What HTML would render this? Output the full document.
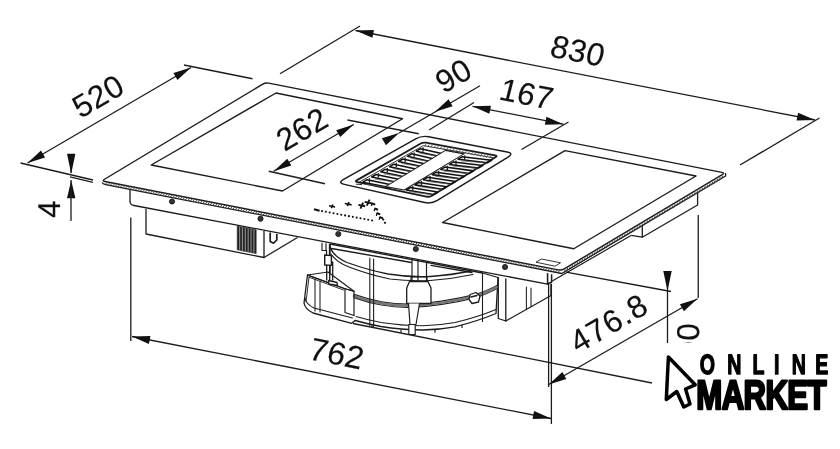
<!DOCTYPE html>
<html><head><meta charset="utf-8"><title>Dimensions</title>
<style>
html,body{margin:0;padding:0;background:#fff;}
body{width:840px;height:449px;overflow:hidden;}
svg{display:block;filter:grayscale(1) blur(0.35px);}
svg text{font-family:"Liberation Sans",sans-serif;fill:#111;text-rendering:geometricPrecision;}
</style></head><body>
<svg width="840" height="449" viewBox="0 0 840 449" stroke="#1c1c1c" fill="none" stroke-linecap="round" stroke-linejoin="round">
<rect width="840" height="449" fill="#fff" stroke="none"/>
<g id="blower">
<path d="M330,244 L330,283 L307.5,275 L304,303 Q305,309 313,313 L351.7,323.3 L355,320.5 Q368,324 381,326.5 Q401,329.8 423,330 Q440,329.6 455,326.8 Q478,321 496,313.5 L498,277.5 L482.5,273 Z" stroke-width="1.3" fill="#fff"/>
<path d="M329.5,245 Q332,256 347,262.5 Q368,270 388,274 Q410,277.5 430,276.5 Q452,275 471,271" stroke-width="1.3" fill="none"/>
<path d="M331,254 Q336,262 349,267 Q370,275 390,279 Q410,281.5 430,280.5 Q452,279 473,274.5" stroke-width="1.17" fill="none"/>
<path d="M354,294.4 Q368,299.4 381.4,301.8 Q395,304.0 407.6,304.2 Q425,304.0 441.7,301.2 Q460,298.4 475.7,294.4 Q488,290.4 497,285.4" stroke-width="1.17" fill="none"/>
<path d="M354,297.6 Q368,302.6 381.4,305.0 Q395,307.2 407.6,307.4 Q425,307.2 441.7,304.4 Q460,301.6 475.7,297.6 Q488,293.6 497,288.6" stroke-width="1.17" fill="none"/>
<path d="M354,296.0 Q368,301.0 381.4,303.4 Q395,305.6 407.6,305.8 Q425,305.6 441.7,302.8 Q460,300.0 475.7,296.0 Q488,292.0 497,287.0" stroke-width="2.6" fill="none" stroke="#777"/>
<path d="M356,316.5 Q368,320 381,322.5 Q401,325.6 423,325.8 Q440,325.4 455,322.6 Q478,317 496,309.5" stroke-width="1.04" fill="none"/>
<path d="M331.5,248.5 L411.4,262.5 M431,265.3 L472,272.5" stroke-width="1.3" fill="none"/>
<line x1="369.8" y1="258" x2="369.8" y2="325.5" stroke-width="1.1"/>
<line x1="373.6" y1="259" x2="373.6" y2="326.5" stroke-width="1.1"/>
<line x1="482.5" y1="273" x2="482.5" y2="321.5" stroke-width="1.1"/>
<path d="M307.5,275 L328,272 L354,291.3 L345,288.7 Z" stroke-width="1.17" fill="#fff"/>
<path d="M307.5,275 L345,288.7 L354,291.3 L354,315.5" stroke-width="1.17" fill="none"/>
<path d="M345,288.7 L345,312.5 L354,315.5" stroke-width="1.17" fill="none"/>
<path d="M315,279 L315,311 M320,281 L320,312" stroke-width="1.04" fill="none"/>
<path d="M309,277.2 L343.5,290 M309,277.2 L306,302" stroke-width="0.91" fill="none"/>
<path d="M305,298 Q306,304 314,308 L352.5,318" stroke-width="1.04" fill="none"/>
<path d="M322,243 L322,250.5 L326,250.5 L326,243.5" stroke-width="1.17" fill="#fff"/>
<path d="M326.5,250.5 L326.5,255 M329.5,245 L329.5,255" stroke-width="1.3" fill="none"/>
<path d="M324.7,255 L331.4,255.6 L331.4,265.4 L324.7,265 Z" stroke-width="1.43" fill="#fff"/>
<path d="M326.7,265.2 L326.7,280 M329.7,265.4 L329.7,280 M332.7,262 L332.7,280" stroke-width="1.3" fill="none"/>
<path d="M328.7,280.5 L337,282.5 L337.4,285.5 L328.7,284 Z" stroke-width="1.3" fill="#fff"/>
<path d="M412,260 L412,281 M418,261 L418,281 M426.5,263 L426.5,281" stroke-width="1.17" fill="none"/>
<path d="M406.7,288 L409.5,281.5 L428,281.5 L431,288 L431,303.5 L406.7,303.5 Z" stroke-width="1.3" fill="#fff"/>
<path d="M411,281.5 L411,277 L427,277 L427,281.5" stroke-width="1.17" fill="none"/>
<path d="M408.5,303.5 L410,324.5 L416,324.5 L419.5,303.5" stroke-width="1.17" fill="#fff"/>
<path d="M408.8,324.5 L408.8,334.5 L415.2,334.5 L415.2,324.5 Z" stroke-width="1.17" fill="#fff"/>
<path d="M470,294.5 L476,292.5 L480,296 L478.5,302 L472,303.5 L469,299.5 Z" stroke-width="1.3" fill="#fff"/>
<path d="M471,297 L477,295.5" stroke-width="1.3" fill="none"/>
<path d="M498.3,277.5 L498.3,318.5 L505.8,321 L551,295.5 L551,284" stroke-width="1.3" fill="#fff"/>
<path d="M505.8,279 L505.8,321" stroke-width="1.3" fill="none"/>
<path d="M526.4,287 L526.4,309 M531,288 L531,306.5" stroke-width="1.04" fill="none"/>
<line x1="372" y1="325.5" x2="372" y2="327.5" stroke-width="1.2"/>
<line x1="401" y1="330" x2="401" y2="332" stroke-width="1.2"/>
<line x1="435" y1="330.2" x2="435" y2="332.2" stroke-width="1.2"/>
<line x1="462" y1="325.5" x2="462" y2="327.5" stroke-width="1.2"/>
</g>
<g id="main" stroke-linecap="butt">
<style>#main text{stroke:#111;stroke-width:0.15px;}</style>
<path d="M146.00,209.00 L146.00,234.00 L264.00,257.50 L264.00,231.00" stroke-width="1.3" fill="#fff" />
<path d="M264.00,257.50 L297.50,237.50" stroke-width="1.3" fill="none" />
<path d="M237.20,226.00 L256.20,229.80 L256.20,253.60 L237.20,249.80 Z" stroke-width="0.5" fill="#8a8a8a" />
<line x1="238.20" y1="226.40" x2="238.20" y2="250.00" stroke-width="1.7" stroke="#222" />
<line x1="241.05" y1="226.97" x2="241.05" y2="250.57" stroke-width="1.7" stroke="#222" />
<line x1="243.90" y1="227.54" x2="243.90" y2="251.14" stroke-width="1.7" stroke="#222" />
<line x1="246.75" y1="228.11" x2="246.75" y2="251.71" stroke-width="1.7" stroke="#222" />
<line x1="249.60" y1="228.68" x2="249.60" y2="252.28" stroke-width="1.7" stroke="#222" />
<line x1="252.45" y1="229.25" x2="252.45" y2="252.85" stroke-width="1.7" stroke="#222" />
<line x1="255.30" y1="229.82" x2="255.30" y2="253.42" stroke-width="1.7" stroke="#222" />
<path d="M270.2,232.5 L270.2,241.5 L273.5,243.2 L276.8,240 L276.8,234" stroke-width="1.7" fill="none" />
<path d="M130,189 L130,201 Q130,205 134,205.5 L547.6,284.2 L547.6,273" stroke-width="1.3" fill="#fff" />
<path d="M697.60,192.50 L697.60,205.00 L642.30,237.20 L642.30,225.80" stroke-width="1.3" fill="none" />
<path d="M642.30,237.20 L631.20,235.30" stroke-width="1.2" fill="none" />
<path d="M104.94,181.51 Q101.80,180.90 104.54,179.25 L262.76,84.15 Q265.50,82.50 268.64,83.12 L721.86,172.38 Q725.00,173.00 722.25,174.64 L564.25,268.86 Q561.50,270.50 558.36,269.89 Z" stroke-width="1.45" fill="#fff" />
<path d="M102.2,182.6 Q102.8,184.2 105.5,184.6 L561.8,273.5 L725.6,176.0 L725.6,173" stroke-width="1.3" fill="none" />
<line x1="105.00" y1="184.59" x2="107.40" y2="182.19" stroke-width="0.9" stroke="#333" />
<line x1="107.50" y1="185.08" x2="109.90" y2="182.68" stroke-width="0.9" stroke="#333" />
<line x1="110.00" y1="185.57" x2="112.40" y2="183.17" stroke-width="0.9" stroke="#333" />
<line x1="112.50" y1="186.06" x2="114.90" y2="183.66" stroke-width="0.9" stroke="#333" />
<line x1="115.00" y1="186.54" x2="117.40" y2="184.14" stroke-width="0.9" stroke="#333" />
<line x1="117.50" y1="187.03" x2="119.90" y2="184.63" stroke-width="0.9" stroke="#333" />
<line x1="120.00" y1="187.52" x2="122.40" y2="185.12" stroke-width="0.9" stroke="#333" />
<line x1="122.50" y1="188.01" x2="124.90" y2="185.61" stroke-width="0.9" stroke="#333" />
<line x1="125.00" y1="188.49" x2="127.40" y2="186.09" stroke-width="0.9" stroke="#333" />
<line x1="127.50" y1="188.98" x2="129.90" y2="186.58" stroke-width="0.9" stroke="#333" />
<line x1="130.00" y1="189.47" x2="132.40" y2="187.07" stroke-width="0.9" stroke="#333" />
<line x1="132.50" y1="189.95" x2="134.90" y2="187.55" stroke-width="0.9" stroke="#333" />
<line x1="135.00" y1="190.44" x2="137.40" y2="188.04" stroke-width="0.9" stroke="#333" />
<line x1="137.50" y1="190.93" x2="139.90" y2="188.53" stroke-width="0.9" stroke="#333" />
<line x1="140.00" y1="191.42" x2="142.40" y2="189.02" stroke-width="0.9" stroke="#333" />
<line x1="142.50" y1="191.90" x2="144.90" y2="189.50" stroke-width="0.9" stroke="#333" />
<line x1="145.00" y1="192.39" x2="147.40" y2="189.99" stroke-width="0.9" stroke="#333" />
<line x1="147.50" y1="192.88" x2="149.90" y2="190.48" stroke-width="0.9" stroke="#333" />
<line x1="150.00" y1="193.37" x2="152.40" y2="190.97" stroke-width="0.9" stroke="#333" />
<line x1="152.50" y1="193.85" x2="154.90" y2="191.45" stroke-width="0.9" stroke="#333" />
<line x1="155.00" y1="194.34" x2="157.40" y2="191.94" stroke-width="0.9" stroke="#333" />
<line x1="157.50" y1="194.83" x2="159.90" y2="192.43" stroke-width="0.9" stroke="#333" />
<line x1="160.00" y1="195.31" x2="162.40" y2="192.91" stroke-width="0.9" stroke="#333" />
<line x1="162.50" y1="195.80" x2="164.90" y2="193.40" stroke-width="0.9" stroke="#333" />
<line x1="165.00" y1="196.29" x2="167.40" y2="193.89" stroke-width="0.9" stroke="#333" />
<line x1="167.50" y1="196.78" x2="169.90" y2="194.38" stroke-width="0.9" stroke="#333" />
<line x1="170.00" y1="197.26" x2="172.40" y2="194.86" stroke-width="0.9" stroke="#333" />
<line x1="172.50" y1="197.75" x2="174.90" y2="195.35" stroke-width="0.9" stroke="#333" />
<line x1="175.00" y1="198.24" x2="177.40" y2="195.84" stroke-width="0.9" stroke="#333" />
<line x1="177.50" y1="198.73" x2="179.90" y2="196.33" stroke-width="0.9" stroke="#333" />
<line x1="180.00" y1="199.21" x2="182.40" y2="196.81" stroke-width="0.9" stroke="#333" />
<line x1="182.50" y1="199.70" x2="184.90" y2="197.30" stroke-width="0.9" stroke="#333" />
<line x1="185.00" y1="200.19" x2="187.40" y2="197.79" stroke-width="0.9" stroke="#333" />
<line x1="187.50" y1="200.67" x2="189.90" y2="198.27" stroke-width="0.9" stroke="#333" />
<line x1="190.00" y1="201.16" x2="192.40" y2="198.76" stroke-width="0.9" stroke="#333" />
<line x1="192.50" y1="201.65" x2="194.90" y2="199.25" stroke-width="0.9" stroke="#333" />
<line x1="195.00" y1="202.14" x2="197.40" y2="199.74" stroke-width="0.9" stroke="#333" />
<line x1="197.50" y1="202.62" x2="199.90" y2="200.22" stroke-width="0.9" stroke="#333" />
<line x1="200.00" y1="203.11" x2="202.40" y2="200.71" stroke-width="0.9" stroke="#333" />
<line x1="202.50" y1="203.60" x2="204.90" y2="201.20" stroke-width="0.9" stroke="#333" />
<line x1="205.00" y1="204.08" x2="207.40" y2="201.68" stroke-width="0.9" stroke="#333" />
<line x1="207.50" y1="204.57" x2="209.90" y2="202.17" stroke-width="0.9" stroke="#333" />
<line x1="210.00" y1="205.06" x2="212.40" y2="202.66" stroke-width="0.9" stroke="#333" />
<line x1="212.50" y1="205.55" x2="214.90" y2="203.15" stroke-width="0.9" stroke="#333" />
<line x1="215.00" y1="206.03" x2="217.40" y2="203.63" stroke-width="0.9" stroke="#333" />
<line x1="217.50" y1="206.52" x2="219.90" y2="204.12" stroke-width="0.9" stroke="#333" />
<line x1="220.00" y1="207.01" x2="222.40" y2="204.61" stroke-width="0.9" stroke="#333" />
<line x1="222.50" y1="207.50" x2="224.90" y2="205.10" stroke-width="0.9" stroke="#333" />
<line x1="225.00" y1="207.98" x2="227.40" y2="205.58" stroke-width="0.9" stroke="#333" />
<line x1="227.50" y1="208.47" x2="229.90" y2="206.07" stroke-width="0.9" stroke="#333" />
<line x1="230.00" y1="208.96" x2="232.40" y2="206.56" stroke-width="0.9" stroke="#333" />
<line x1="232.50" y1="209.44" x2="234.90" y2="207.04" stroke-width="0.9" stroke="#333" />
<line x1="235.00" y1="209.93" x2="237.40" y2="207.53" stroke-width="0.9" stroke="#333" />
<line x1="237.50" y1="210.42" x2="239.90" y2="208.02" stroke-width="0.9" stroke="#333" />
<line x1="240.00" y1="210.91" x2="242.40" y2="208.51" stroke-width="0.9" stroke="#333" />
<line x1="242.50" y1="211.39" x2="244.90" y2="208.99" stroke-width="0.9" stroke="#333" />
<line x1="245.00" y1="211.88" x2="247.40" y2="209.48" stroke-width="0.9" stroke="#333" />
<line x1="247.50" y1="212.37" x2="249.90" y2="209.97" stroke-width="0.9" stroke="#333" />
<line x1="250.00" y1="212.86" x2="252.40" y2="210.46" stroke-width="0.9" stroke="#333" />
<line x1="252.50" y1="213.34" x2="254.90" y2="210.94" stroke-width="0.9" stroke="#333" />
<line x1="255.00" y1="213.83" x2="257.40" y2="211.43" stroke-width="0.9" stroke="#333" />
<line x1="257.50" y1="214.32" x2="259.90" y2="211.92" stroke-width="0.9" stroke="#333" />
<line x1="260.00" y1="214.80" x2="262.40" y2="212.40" stroke-width="0.9" stroke="#333" />
<line x1="262.50" y1="215.29" x2="264.90" y2="212.89" stroke-width="0.9" stroke="#333" />
<line x1="265.00" y1="215.78" x2="267.40" y2="213.38" stroke-width="0.9" stroke="#333" />
<line x1="267.50" y1="216.27" x2="269.90" y2="213.87" stroke-width="0.9" stroke="#333" />
<line x1="270.00" y1="216.75" x2="272.40" y2="214.35" stroke-width="0.9" stroke="#333" />
<line x1="272.50" y1="217.24" x2="274.90" y2="214.84" stroke-width="0.9" stroke="#333" />
<line x1="275.00" y1="217.73" x2="277.40" y2="215.33" stroke-width="0.9" stroke="#333" />
<line x1="277.50" y1="218.22" x2="279.90" y2="215.82" stroke-width="0.9" stroke="#333" />
<line x1="280.00" y1="218.70" x2="282.40" y2="216.30" stroke-width="0.9" stroke="#333" />
<line x1="282.50" y1="219.19" x2="284.90" y2="216.79" stroke-width="0.9" stroke="#333" />
<line x1="285.00" y1="219.68" x2="287.40" y2="217.28" stroke-width="0.9" stroke="#333" />
<line x1="287.50" y1="220.16" x2="289.90" y2="217.76" stroke-width="0.9" stroke="#333" />
<line x1="290.00" y1="220.65" x2="292.40" y2="218.25" stroke-width="0.9" stroke="#333" />
<line x1="292.50" y1="221.14" x2="294.90" y2="218.74" stroke-width="0.9" stroke="#333" />
<line x1="295.00" y1="221.63" x2="297.40" y2="219.23" stroke-width="0.9" stroke="#333" />
<line x1="297.50" y1="222.11" x2="299.90" y2="219.71" stroke-width="0.9" stroke="#333" />
<line x1="300.00" y1="222.60" x2="302.40" y2="220.20" stroke-width="0.9" stroke="#333" />
<line x1="302.50" y1="223.09" x2="304.90" y2="220.69" stroke-width="0.9" stroke="#333" />
<line x1="305.00" y1="223.57" x2="307.40" y2="221.17" stroke-width="0.9" stroke="#333" />
<line x1="307.50" y1="224.06" x2="309.90" y2="221.66" stroke-width="0.9" stroke="#333" />
<line x1="310.00" y1="224.55" x2="312.40" y2="222.15" stroke-width="0.9" stroke="#333" />
<line x1="312.50" y1="225.04" x2="314.90" y2="222.64" stroke-width="0.9" stroke="#333" />
<line x1="315.00" y1="225.52" x2="317.40" y2="223.12" stroke-width="0.9" stroke="#333" />
<line x1="317.50" y1="226.01" x2="319.90" y2="223.61" stroke-width="0.9" stroke="#333" />
<line x1="320.00" y1="226.50" x2="322.40" y2="224.10" stroke-width="0.9" stroke="#333" />
<line x1="322.50" y1="226.99" x2="324.90" y2="224.59" stroke-width="0.9" stroke="#333" />
<line x1="325.00" y1="227.47" x2="327.40" y2="225.07" stroke-width="0.9" stroke="#333" />
<line x1="327.50" y1="227.96" x2="329.90" y2="225.56" stroke-width="0.9" stroke="#333" />
<line x1="330.00" y1="228.45" x2="332.40" y2="226.05" stroke-width="0.9" stroke="#333" />
<line x1="332.50" y1="228.93" x2="334.90" y2="226.53" stroke-width="0.9" stroke="#333" />
<line x1="335.00" y1="229.42" x2="337.40" y2="227.02" stroke-width="0.9" stroke="#333" />
<line x1="337.50" y1="229.91" x2="339.90" y2="227.51" stroke-width="0.9" stroke="#333" />
<line x1="340.00" y1="230.40" x2="342.40" y2="228.00" stroke-width="0.9" stroke="#333" />
<line x1="342.50" y1="230.88" x2="344.90" y2="228.48" stroke-width="0.9" stroke="#333" />
<line x1="345.00" y1="231.37" x2="347.40" y2="228.97" stroke-width="0.9" stroke="#333" />
<line x1="347.50" y1="231.86" x2="349.90" y2="229.46" stroke-width="0.9" stroke="#333" />
<line x1="350.00" y1="232.35" x2="352.40" y2="229.95" stroke-width="0.9" stroke="#333" />
<line x1="352.50" y1="232.83" x2="354.90" y2="230.43" stroke-width="0.9" stroke="#333" />
<line x1="355.00" y1="233.32" x2="357.40" y2="230.92" stroke-width="0.9" stroke="#333" />
<line x1="357.50" y1="233.81" x2="359.90" y2="231.41" stroke-width="0.9" stroke="#333" />
<line x1="360.00" y1="234.29" x2="362.40" y2="231.89" stroke-width="0.9" stroke="#333" />
<line x1="362.50" y1="234.78" x2="364.90" y2="232.38" stroke-width="0.9" stroke="#333" />
<line x1="365.00" y1="235.27" x2="367.40" y2="232.87" stroke-width="0.9" stroke="#333" />
<line x1="367.50" y1="235.76" x2="369.90" y2="233.36" stroke-width="0.9" stroke="#333" />
<line x1="370.00" y1="236.24" x2="372.40" y2="233.84" stroke-width="0.9" stroke="#333" />
<line x1="372.50" y1="236.73" x2="374.90" y2="234.33" stroke-width="0.9" stroke="#333" />
<line x1="375.00" y1="237.22" x2="377.40" y2="234.82" stroke-width="0.9" stroke="#333" />
<line x1="377.50" y1="237.71" x2="379.90" y2="235.31" stroke-width="0.9" stroke="#333" />
<line x1="380.00" y1="238.19" x2="382.40" y2="235.79" stroke-width="0.9" stroke="#333" />
<line x1="382.50" y1="238.68" x2="384.90" y2="236.28" stroke-width="0.9" stroke="#333" />
<line x1="385.00" y1="239.17" x2="387.40" y2="236.77" stroke-width="0.9" stroke="#333" />
<line x1="387.50" y1="239.65" x2="389.90" y2="237.25" stroke-width="0.9" stroke="#333" />
<line x1="390.00" y1="240.14" x2="392.40" y2="237.74" stroke-width="0.9" stroke="#333" />
<line x1="392.50" y1="240.63" x2="394.90" y2="238.23" stroke-width="0.9" stroke="#333" />
<line x1="395.00" y1="241.12" x2="397.40" y2="238.72" stroke-width="0.9" stroke="#333" />
<line x1="397.50" y1="241.60" x2="399.90" y2="239.20" stroke-width="0.9" stroke="#333" />
<line x1="400.00" y1="242.09" x2="402.40" y2="239.69" stroke-width="0.9" stroke="#333" />
<line x1="402.50" y1="242.58" x2="404.90" y2="240.18" stroke-width="0.9" stroke="#333" />
<line x1="405.00" y1="243.06" x2="407.40" y2="240.66" stroke-width="0.9" stroke="#333" />
<line x1="407.50" y1="243.55" x2="409.90" y2="241.15" stroke-width="0.9" stroke="#333" />
<line x1="410.00" y1="244.04" x2="412.40" y2="241.64" stroke-width="0.9" stroke="#333" />
<line x1="412.50" y1="244.53" x2="414.90" y2="242.13" stroke-width="0.9" stroke="#333" />
<line x1="415.00" y1="245.01" x2="417.40" y2="242.61" stroke-width="0.9" stroke="#333" />
<line x1="417.50" y1="245.50" x2="419.90" y2="243.10" stroke-width="0.9" stroke="#333" />
<line x1="420.00" y1="245.99" x2="422.40" y2="243.59" stroke-width="0.9" stroke="#333" />
<line x1="422.50" y1="246.48" x2="424.90" y2="244.08" stroke-width="0.9" stroke="#333" />
<line x1="425.00" y1="246.96" x2="427.40" y2="244.56" stroke-width="0.9" stroke="#333" />
<line x1="427.50" y1="247.45" x2="429.90" y2="245.05" stroke-width="0.9" stroke="#333" />
<line x1="430.00" y1="247.94" x2="432.40" y2="245.54" stroke-width="0.9" stroke="#333" />
<line x1="432.50" y1="248.42" x2="434.90" y2="246.02" stroke-width="0.9" stroke="#333" />
<line x1="435.00" y1="248.91" x2="437.40" y2="246.51" stroke-width="0.9" stroke="#333" />
<line x1="437.50" y1="249.40" x2="439.90" y2="247.00" stroke-width="0.9" stroke="#333" />
<line x1="440.00" y1="249.89" x2="442.40" y2="247.49" stroke-width="0.9" stroke="#333" />
<line x1="442.50" y1="250.37" x2="444.90" y2="247.97" stroke-width="0.9" stroke="#333" />
<line x1="445.00" y1="250.86" x2="447.40" y2="248.46" stroke-width="0.9" stroke="#333" />
<line x1="447.50" y1="251.35" x2="449.90" y2="248.95" stroke-width="0.9" stroke="#333" />
<line x1="450.00" y1="251.84" x2="452.40" y2="249.44" stroke-width="0.9" stroke="#333" />
<line x1="452.50" y1="252.32" x2="454.90" y2="249.92" stroke-width="0.9" stroke="#333" />
<line x1="455.00" y1="252.81" x2="457.40" y2="250.41" stroke-width="0.9" stroke="#333" />
<line x1="457.50" y1="253.30" x2="459.90" y2="250.90" stroke-width="0.9" stroke="#333" />
<line x1="460.00" y1="253.78" x2="462.40" y2="251.38" stroke-width="0.9" stroke="#333" />
<line x1="462.50" y1="254.27" x2="464.90" y2="251.87" stroke-width="0.9" stroke="#333" />
<line x1="465.00" y1="254.76" x2="467.40" y2="252.36" stroke-width="0.9" stroke="#333" />
<line x1="467.50" y1="255.25" x2="469.90" y2="252.85" stroke-width="0.9" stroke="#333" />
<line x1="470.00" y1="255.73" x2="472.40" y2="253.33" stroke-width="0.9" stroke="#333" />
<line x1="472.50" y1="256.22" x2="474.90" y2="253.82" stroke-width="0.9" stroke="#333" />
<line x1="475.00" y1="256.71" x2="477.40" y2="254.31" stroke-width="0.9" stroke="#333" />
<line x1="477.50" y1="257.20" x2="479.90" y2="254.80" stroke-width="0.9" stroke="#333" />
<line x1="480.00" y1="257.68" x2="482.40" y2="255.28" stroke-width="0.9" stroke="#333" />
<line x1="482.50" y1="258.17" x2="484.90" y2="255.77" stroke-width="0.9" stroke="#333" />
<line x1="485.00" y1="258.66" x2="487.40" y2="256.26" stroke-width="0.9" stroke="#333" />
<line x1="487.50" y1="259.14" x2="489.90" y2="256.74" stroke-width="0.9" stroke="#333" />
<line x1="490.00" y1="259.63" x2="492.40" y2="257.23" stroke-width="0.9" stroke="#333" />
<line x1="492.50" y1="260.12" x2="494.90" y2="257.72" stroke-width="0.9" stroke="#333" />
<line x1="495.00" y1="260.61" x2="497.40" y2="258.21" stroke-width="0.9" stroke="#333" />
<line x1="497.50" y1="261.09" x2="499.90" y2="258.69" stroke-width="0.9" stroke="#333" />
<line x1="500.00" y1="261.58" x2="502.40" y2="259.18" stroke-width="0.9" stroke="#333" />
<line x1="502.50" y1="262.07" x2="504.90" y2="259.67" stroke-width="0.9" stroke="#333" />
<line x1="505.00" y1="262.55" x2="507.40" y2="260.15" stroke-width="0.9" stroke="#333" />
<line x1="507.50" y1="263.04" x2="509.90" y2="260.64" stroke-width="0.9" stroke="#333" />
<line x1="510.00" y1="263.53" x2="512.40" y2="261.13" stroke-width="0.9" stroke="#333" />
<line x1="512.50" y1="264.02" x2="514.90" y2="261.62" stroke-width="0.9" stroke="#333" />
<line x1="515.00" y1="264.50" x2="517.40" y2="262.10" stroke-width="0.9" stroke="#333" />
<line x1="517.50" y1="264.99" x2="519.90" y2="262.59" stroke-width="0.9" stroke="#333" />
<line x1="520.00" y1="265.48" x2="522.40" y2="263.08" stroke-width="0.9" stroke="#333" />
<line x1="522.50" y1="265.97" x2="524.90" y2="263.57" stroke-width="0.9" stroke="#333" />
<line x1="525.00" y1="266.45" x2="527.40" y2="264.05" stroke-width="0.9" stroke="#333" />
<line x1="527.50" y1="266.94" x2="529.90" y2="264.54" stroke-width="0.9" stroke="#333" />
<line x1="530.00" y1="267.43" x2="532.40" y2="265.03" stroke-width="0.9" stroke="#333" />
<line x1="532.50" y1="267.91" x2="534.90" y2="265.51" stroke-width="0.9" stroke="#333" />
<line x1="535.00" y1="268.40" x2="537.40" y2="266.00" stroke-width="0.9" stroke="#333" />
<line x1="537.50" y1="268.89" x2="539.90" y2="266.49" stroke-width="0.9" stroke="#333" />
<line x1="540.00" y1="269.38" x2="542.40" y2="266.98" stroke-width="0.9" stroke="#333" />
<line x1="542.50" y1="269.86" x2="544.90" y2="267.46" stroke-width="0.9" stroke="#333" />
<line x1="545.00" y1="270.35" x2="547.40" y2="267.95" stroke-width="0.9" stroke="#333" />
<line x1="547.50" y1="270.84" x2="549.90" y2="268.44" stroke-width="0.9" stroke="#333" />
<line x1="550.00" y1="271.33" x2="552.40" y2="268.93" stroke-width="0.9" stroke="#333" />
<line x1="552.50" y1="271.81" x2="554.90" y2="269.41" stroke-width="0.9" stroke="#333" />
<line x1="555.00" y1="272.30" x2="557.40" y2="269.90" stroke-width="0.9" stroke="#333" />
<line x1="557.50" y1="272.79" x2="559.90" y2="270.39" stroke-width="0.9" stroke="#333" />
<line x1="564.00" y1="272.90" x2="565.20" y2="269.50" stroke-width="0.9" stroke="#333" />
<line x1="566.50" y1="271.41" x2="567.70" y2="268.01" stroke-width="0.9" stroke="#333" />
<line x1="569.00" y1="269.93" x2="570.20" y2="266.52" stroke-width="0.9" stroke="#333" />
<line x1="571.50" y1="268.44" x2="572.70" y2="265.04" stroke-width="0.9" stroke="#333" />
<line x1="574.00" y1="266.95" x2="575.20" y2="263.55" stroke-width="0.9" stroke="#333" />
<line x1="576.50" y1="265.46" x2="577.70" y2="262.06" stroke-width="0.9" stroke="#333" />
<line x1="579.00" y1="263.98" x2="580.20" y2="260.57" stroke-width="0.9" stroke="#333" />
<line x1="581.50" y1="262.49" x2="582.70" y2="259.09" stroke-width="0.9" stroke="#333" />
<line x1="584.00" y1="261.00" x2="585.20" y2="257.60" stroke-width="0.9" stroke="#333" />
<line x1="586.50" y1="259.51" x2="587.70" y2="256.11" stroke-width="0.9" stroke="#333" />
<line x1="589.00" y1="258.03" x2="590.20" y2="254.62" stroke-width="0.9" stroke="#333" />
<line x1="591.50" y1="256.54" x2="592.70" y2="253.14" stroke-width="0.9" stroke="#333" />
<line x1="594.00" y1="255.05" x2="595.20" y2="251.65" stroke-width="0.9" stroke="#333" />
<line x1="596.50" y1="253.56" x2="597.70" y2="250.16" stroke-width="0.9" stroke="#333" />
<line x1="599.00" y1="252.08" x2="600.20" y2="248.68" stroke-width="0.9" stroke="#333" />
<line x1="601.50" y1="250.59" x2="602.70" y2="247.19" stroke-width="0.9" stroke="#333" />
<line x1="604.00" y1="249.10" x2="605.20" y2="245.70" stroke-width="0.9" stroke="#333" />
<line x1="606.50" y1="247.61" x2="607.70" y2="244.21" stroke-width="0.9" stroke="#333" />
<line x1="609.00" y1="246.12" x2="610.20" y2="242.72" stroke-width="0.9" stroke="#333" />
<line x1="611.50" y1="244.64" x2="612.70" y2="241.24" stroke-width="0.9" stroke="#333" />
<line x1="614.00" y1="243.15" x2="615.20" y2="239.75" stroke-width="0.9" stroke="#333" />
<line x1="616.50" y1="241.66" x2="617.70" y2="238.26" stroke-width="0.9" stroke="#333" />
<line x1="619.00" y1="240.18" x2="620.20" y2="236.78" stroke-width="0.9" stroke="#333" />
<line x1="621.50" y1="238.69" x2="622.70" y2="235.29" stroke-width="0.9" stroke="#333" />
<line x1="624.00" y1="237.20" x2="625.20" y2="233.80" stroke-width="0.9" stroke="#333" />
<line x1="626.50" y1="235.71" x2="627.70" y2="232.31" stroke-width="0.9" stroke="#333" />
<line x1="629.00" y1="234.22" x2="630.20" y2="230.82" stroke-width="0.9" stroke="#333" />
<line x1="631.50" y1="232.74" x2="632.70" y2="229.34" stroke-width="0.9" stroke="#333" />
<line x1="634.00" y1="231.25" x2="635.20" y2="227.85" stroke-width="0.9" stroke="#333" />
<line x1="636.50" y1="229.76" x2="637.70" y2="226.36" stroke-width="0.9" stroke="#333" />
<line x1="639.00" y1="228.28" x2="640.20" y2="224.88" stroke-width="0.9" stroke="#333" />
<line x1="641.50" y1="226.79" x2="642.70" y2="223.39" stroke-width="0.9" stroke="#333" />
<line x1="644.00" y1="225.30" x2="645.20" y2="221.90" stroke-width="0.9" stroke="#333" />
<line x1="646.50" y1="223.81" x2="647.70" y2="220.41" stroke-width="0.9" stroke="#333" />
<line x1="649.00" y1="222.33" x2="650.20" y2="218.93" stroke-width="0.9" stroke="#333" />
<line x1="651.50" y1="220.84" x2="652.70" y2="217.44" stroke-width="0.9" stroke="#333" />
<line x1="654.00" y1="219.35" x2="655.20" y2="215.95" stroke-width="0.9" stroke="#333" />
<line x1="656.50" y1="217.86" x2="657.70" y2="214.46" stroke-width="0.9" stroke="#333" />
<line x1="659.00" y1="216.38" x2="660.20" y2="212.97" stroke-width="0.9" stroke="#333" />
<line x1="661.50" y1="214.89" x2="662.70" y2="211.49" stroke-width="0.9" stroke="#333" />
<line x1="664.00" y1="213.40" x2="665.20" y2="210.00" stroke-width="0.9" stroke="#333" />
<line x1="666.50" y1="211.91" x2="667.70" y2="208.51" stroke-width="0.9" stroke="#333" />
<line x1="669.00" y1="210.43" x2="670.20" y2="207.03" stroke-width="0.9" stroke="#333" />
<line x1="671.50" y1="208.94" x2="672.70" y2="205.54" stroke-width="0.9" stroke="#333" />
<line x1="674.00" y1="207.45" x2="675.20" y2="204.05" stroke-width="0.9" stroke="#333" />
<line x1="676.50" y1="205.96" x2="677.70" y2="202.56" stroke-width="0.9" stroke="#333" />
<line x1="679.00" y1="204.47" x2="680.20" y2="201.07" stroke-width="0.9" stroke="#333" />
<line x1="681.50" y1="202.99" x2="682.70" y2="199.59" stroke-width="0.9" stroke="#333" />
<line x1="684.00" y1="201.50" x2="685.20" y2="198.10" stroke-width="0.9" stroke="#333" />
<line x1="686.50" y1="200.01" x2="687.70" y2="196.61" stroke-width="0.9" stroke="#333" />
<line x1="689.00" y1="198.53" x2="690.20" y2="195.12" stroke-width="0.9" stroke="#333" />
<line x1="691.50" y1="197.04" x2="692.70" y2="193.64" stroke-width="0.9" stroke="#333" />
<line x1="694.00" y1="195.55" x2="695.20" y2="192.15" stroke-width="0.9" stroke="#333" />
<line x1="696.50" y1="194.06" x2="697.70" y2="190.66" stroke-width="0.9" stroke="#333" />
<line x1="699.00" y1="192.58" x2="700.20" y2="189.18" stroke-width="0.9" stroke="#333" />
<line x1="701.50" y1="191.09" x2="702.70" y2="187.69" stroke-width="0.9" stroke="#333" />
<line x1="704.00" y1="189.60" x2="705.20" y2="186.20" stroke-width="0.9" stroke="#333" />
<line x1="706.50" y1="188.11" x2="707.70" y2="184.71" stroke-width="0.9" stroke="#333" />
<line x1="709.00" y1="186.63" x2="710.20" y2="183.23" stroke-width="0.9" stroke="#333" />
<line x1="711.50" y1="185.14" x2="712.70" y2="181.74" stroke-width="0.9" stroke="#333" />
<line x1="714.00" y1="183.65" x2="715.20" y2="180.25" stroke-width="0.9" stroke="#333" />
<line x1="716.50" y1="182.16" x2="717.70" y2="178.76" stroke-width="0.9" stroke="#333" />
<line x1="719.00" y1="180.68" x2="720.20" y2="177.28" stroke-width="0.9" stroke="#333" />
<line x1="721.50" y1="179.19" x2="722.70" y2="175.79" stroke-width="0.9" stroke="#333" />
<line x1="550.50" y1="282.00" x2="631.00" y2="235.60" stroke-width="1.2" />
<path d="M547.60,273.50 L547.60,284.00 L551.60,282.00 L551.60,274.20" stroke-width="1.5" fill="#fff" />
<path d="M151.25,165.00 L276.00,93.00 L402.50,118.75 L282.50,191.00 Z" stroke-width="1.4" fill="none" />
<path d="M442.50,222.50 L565.00,150.60 L696.00,176.00 L573.75,248.75 Z" stroke-width="1.4" fill="none" />
<circle cx="172" cy="201.5" r="2.6" fill="#333" stroke="#111" stroke-width="0.8"/>
<circle cx="260.5" cy="218.7" r="2.6" fill="#333" stroke="#111" stroke-width="0.8"/>
<circle cx="338.3" cy="234" r="2.6" fill="#333" stroke="#111" stroke-width="0.8"/>
<circle cx="415.8" cy="249" r="2.6" fill="#333" stroke="#111" stroke-width="0.8"/>
<circle cx="505" cy="267" r="2.6" fill="#333" stroke="#111" stroke-width="0.8"/>
<path d="M536.00,262.20 L541.50,259.00 L560.50,262.80 L555.00,266.20 Z" stroke-width="0.9" fill="none" />
<path d="M344.33,184.34 Q337.50,182.80 343.60,179.37 L415.70,138.83 Q421.80,135.40 428.67,136.74 L507.13,152.06 Q514.00,153.40 508.03,157.06 L437.37,200.34 Q431.40,204.00 424.57,202.46 Z" stroke-width="1.45" fill="none" />
<path d="M357.44,182.21 Q354.50,181.60 357.10,180.10 L420.30,143.70 Q422.90,142.20 425.85,142.73 L495.05,155.27 Q498.00,155.80 495.43,157.35 L431.87,195.65 Q429.30,197.20 426.36,196.59 Z" stroke-width="1.8" fill="none" />
<path d="M358.50,182.60 L423.30,145.60 L493.50,157.80" stroke-width="0.9" fill="none" />
<path d="M356.00,184.20 L362.00,184.60" stroke-width="0.9" fill="none" />
<line x1="426.00" y1="143.94" x2="424.40" y2="146.54" stroke-width="0.8" stroke="#444" />
<line x1="429.10" y1="144.50" x2="427.50" y2="147.10" stroke-width="0.8" stroke="#444" />
<line x1="432.20" y1="145.07" x2="430.60" y2="147.67" stroke-width="0.8" stroke="#444" />
<line x1="435.30" y1="145.63" x2="433.70" y2="148.23" stroke-width="0.8" stroke="#444" />
<line x1="438.40" y1="146.19" x2="436.80" y2="148.79" stroke-width="0.8" stroke="#444" />
<line x1="441.50" y1="146.75" x2="439.90" y2="149.35" stroke-width="0.8" stroke="#444" />
<line x1="444.60" y1="147.31" x2="443.00" y2="149.91" stroke-width="0.8" stroke="#444" />
<line x1="447.70" y1="147.87" x2="446.10" y2="150.47" stroke-width="0.8" stroke="#444" />
<line x1="450.80" y1="148.43" x2="449.20" y2="151.03" stroke-width="0.8" stroke="#444" />
<line x1="453.90" y1="148.99" x2="452.30" y2="151.59" stroke-width="0.8" stroke="#444" />
<line x1="457.00" y1="149.55" x2="455.40" y2="152.15" stroke-width="0.8" stroke="#444" />
<line x1="460.10" y1="150.12" x2="458.50" y2="152.72" stroke-width="0.8" stroke="#444" />
<line x1="463.20" y1="150.68" x2="461.60" y2="153.28" stroke-width="0.8" stroke="#444" />
<line x1="466.30" y1="151.24" x2="464.70" y2="153.84" stroke-width="0.8" stroke="#444" />
<line x1="469.40" y1="151.80" x2="467.80" y2="154.40" stroke-width="0.8" stroke="#444" />
<line x1="472.50" y1="152.36" x2="470.90" y2="154.96" stroke-width="0.8" stroke="#444" />
<line x1="475.60" y1="152.92" x2="474.00" y2="155.52" stroke-width="0.8" stroke="#444" />
<line x1="478.70" y1="153.48" x2="477.10" y2="156.08" stroke-width="0.8" stroke="#444" />
<line x1="481.80" y1="154.04" x2="480.20" y2="156.64" stroke-width="0.8" stroke="#444" />
<line x1="484.90" y1="154.60" x2="483.30" y2="157.20" stroke-width="0.8" stroke="#444" />
<line x1="488.00" y1="155.16" x2="486.40" y2="157.76" stroke-width="0.8" stroke="#444" />
<line x1="491.10" y1="155.73" x2="489.50" y2="158.33" stroke-width="0.8" stroke="#444" />
<path d="M362.79,182.17 L367.07,179.68 L392.33,184.90 L388.21,187.37 Z" stroke-width="1.55" fill="none" stroke="#111"/>
<line x1="369.47" y1="178.28" x2="369.47" y2="182.68" stroke-width="1.3" />
<line x1="365.79" y1="184.17" x2="387.21" y2="187.37" stroke-width="0.7" stroke="#555" />
<path d="M371.71,176.99 L376.00,174.51 L400.90,179.76 L396.79,182.23 Z" stroke-width="1.55" fill="none" stroke="#111"/>
<line x1="378.40" y1="173.11" x2="378.40" y2="177.51" stroke-width="1.3" />
<line x1="374.71" y1="178.99" x2="395.79" y2="182.23" stroke-width="0.7" stroke="#555" />
<path d="M380.64,171.82 L384.93,169.34 L409.47,174.62 L405.36,177.09 Z" stroke-width="1.55" fill="none" stroke="#111"/>
<line x1="387.33" y1="167.94" x2="387.33" y2="172.34" stroke-width="1.3" />
<line x1="383.64" y1="173.82" x2="404.36" y2="177.09" stroke-width="0.7" stroke="#555" />
<path d="M389.57,166.65 L393.86,164.17 L418.04,169.47 L413.93,171.94 Z" stroke-width="1.55" fill="none" stroke="#111"/>
<line x1="396.26" y1="162.77" x2="396.26" y2="167.17" stroke-width="1.3" />
<line x1="392.57" y1="168.65" x2="412.93" y2="171.94" stroke-width="0.7" stroke="#555" />
<path d="M398.50,161.48 L402.79,159.00 L426.61,164.33 L422.50,166.80 Z" stroke-width="1.55" fill="none" stroke="#111"/>
<line x1="405.19" y1="157.60" x2="405.19" y2="162.00" stroke-width="1.3" />
<line x1="401.50" y1="163.48" x2="421.50" y2="166.80" stroke-width="0.7" stroke="#555" />
<path d="M407.43,156.31 L411.71,153.83 L435.19,159.19 L431.07,161.66 Z" stroke-width="1.55" fill="none" stroke="#111"/>
<line x1="414.11" y1="152.43" x2="414.11" y2="156.83" stroke-width="1.3" />
<line x1="410.43" y1="158.31" x2="430.07" y2="161.66" stroke-width="0.7" stroke="#555" />
<path d="M416.36,151.14 L420.64,148.65 L443.76,154.05 L439.64,156.51 Z" stroke-width="1.55" fill="none" stroke="#111"/>
<line x1="423.04" y1="147.25" x2="423.04" y2="151.65" stroke-width="1.3" />
<line x1="419.36" y1="153.14" x2="438.64" y2="156.51" stroke-width="0.7" stroke="#555" />
<path d="M406.23,189.98 L410.38,187.52 L437.62,192.01 L433.30,194.54 Z" stroke-width="1.55" fill="none" stroke="#111"/>
<line x1="412.78" y1="186.12" x2="412.78" y2="190.52" stroke-width="1.3" />
<line x1="409.23" y1="191.58" x2="432.30" y2="194.74" stroke-width="0.7" stroke="#555" />
<path d="M414.87,184.86 L419.02,182.41 L446.62,186.72 L442.30,189.26 Z" stroke-width="1.55" fill="none" stroke="#111"/>
<line x1="421.42" y1="181.01" x2="421.42" y2="185.41" stroke-width="1.3" />
<line x1="417.87" y1="186.46" x2="441.30" y2="189.46" stroke-width="0.7" stroke="#555" />
<path d="M423.51,179.75 L427.66,177.29 L455.62,181.43 L451.30,183.97 Z" stroke-width="1.55" fill="none" stroke="#111"/>
<line x1="430.06" y1="175.89" x2="430.06" y2="180.29" stroke-width="1.3" />
<line x1="426.51" y1="181.35" x2="450.30" y2="184.17" stroke-width="0.7" stroke="#555" />
<path d="M432.16,174.63 L436.31,172.18 L464.62,176.15 L460.30,178.69 Z" stroke-width="1.55" fill="none" stroke="#111"/>
<line x1="438.71" y1="170.78" x2="438.71" y2="175.18" stroke-width="1.3" />
<line x1="435.16" y1="176.23" x2="459.30" y2="178.89" stroke-width="0.7" stroke="#555" />
<path d="M440.80,169.52 L444.95,167.07 L473.62,170.86 L469.30,173.40 Z" stroke-width="1.55" fill="none" stroke="#111"/>
<line x1="447.35" y1="165.67" x2="447.35" y2="170.07" stroke-width="1.3" />
<line x1="443.80" y1="171.12" x2="468.30" y2="173.60" stroke-width="0.7" stroke="#555" />
<path d="M449.44,164.41 L453.59,161.95 L482.62,165.58 L478.30,168.11 Z" stroke-width="1.55" fill="none" stroke="#111"/>
<line x1="455.99" y1="160.55" x2="455.99" y2="164.95" stroke-width="1.3" />
<line x1="452.44" y1="166.01" x2="477.30" y2="168.31" stroke-width="0.7" stroke="#555" />
<path d="M458.09,159.29 L462.23,156.84 L491.62,160.29 L487.30,162.83 Z" stroke-width="1.55" fill="none" stroke="#111"/>
<line x1="464.63" y1="155.44" x2="464.63" y2="159.84" stroke-width="1.3" />
<line x1="461.09" y1="160.89" x2="486.30" y2="163.03" stroke-width="0.7" stroke="#555" />
<path d="M385.50,186.60 L445.50,150.40 L464.00,153.90 L404.20,190.00 Z" stroke-width="1.1" fill="#fff" />
<line x1="385.50" y1="186.60" x2="385.50" y2="188.10" stroke-width="0.9" />
<circle cx="322.00" cy="211.10" r="1.05" fill="#111" stroke="none"/>
<circle cx="325.85" cy="211.82" r="1.05" fill="#111" stroke="none"/>
<circle cx="329.70" cy="212.54" r="1.05" fill="#111" stroke="none"/>
<circle cx="333.55" cy="213.26" r="1.05" fill="#111" stroke="none"/>
<circle cx="337.40" cy="213.98" r="1.05" fill="#111" stroke="none"/>
<circle cx="341.25" cy="214.70" r="1.05" fill="#111" stroke="none"/>
<circle cx="345.10" cy="215.42" r="1.05" fill="#111" stroke="none"/>
<circle cx="348.95" cy="216.14" r="1.05" fill="#111" stroke="none"/>
<circle cx="352.80" cy="216.86" r="1.05" fill="#111" stroke="none"/>
<circle cx="356.65" cy="217.58" r="1.05" fill="#111" stroke="none"/>
<circle cx="360.50" cy="218.30" r="1.05" fill="#111" stroke="none"/>
<circle cx="364.35" cy="219.02" r="1.05" fill="#111" stroke="none"/>
<circle cx="368.20" cy="219.74" r="1.05" fill="#111" stroke="none"/>
<circle cx="372.05" cy="220.46" r="1.05" fill="#111" stroke="none"/>
<line x1="329.10" y1="205.70" x2="335.10" y2="206.90" stroke-width="1.5" stroke="#111" />
<line x1="331.29" y1="208.10" x2="332.91" y2="204.50" stroke-width="1.5" stroke="#111" />
<line x1="344.80" y1="203.52" x2="351.60" y2="204.88" stroke-width="1.6" stroke="#111" />
<line x1="347.30" y1="206.20" x2="349.10" y2="202.20" stroke-width="1.6" stroke="#111" />
<line x1="358.40" y1="204.92" x2="365.20" y2="206.28" stroke-width="1.9" stroke="#111" />
<line x1="360.45" y1="208.60" x2="363.15" y2="202.60" stroke-width="1.9" stroke="#111" />
<line x1="364.60" y1="201.88" x2="371.80" y2="203.32" stroke-width="1.9" stroke="#111" />
<line x1="366.85" y1="205.60" x2="369.55" y2="199.60" stroke-width="1.9" stroke="#111" />
<line x1="371.60" y1="203.20" x2="375.20" y2="204.60" stroke-width="2.0" stroke="#111" />
<line x1="372.00" y1="203.40" x2="371.40" y2="206.00" stroke-width="1.3" stroke="#111" />
<line x1="374.40" y1="208.40" x2="378.00" y2="209.80" stroke-width="2.0" stroke="#111" />
<line x1="374.80" y1="208.60" x2="374.20" y2="211.20" stroke-width="1.3" stroke="#111" />
<line x1="376.60" y1="213.00" x2="380.20" y2="214.40" stroke-width="2.0" stroke="#111" />
<line x1="377.00" y1="213.20" x2="376.40" y2="215.80" stroke-width="1.3" stroke="#111" />
<line x1="379.40" y1="217.00" x2="383.00" y2="218.40" stroke-width="2.0" stroke="#111" />
<line x1="379.80" y1="217.20" x2="379.20" y2="219.80" stroke-width="1.3" stroke="#111" />
<circle cx="383.2" cy="219.6" r="1.1" fill="#111" stroke="none"/>
<circle cx="385" cy="222.8" r="1.1" fill="#111" stroke="none"/>
<line x1="314.00" y1="209.20" x2="319.60" y2="210.80" stroke-width="2.1" stroke="#111" />
<line x1="27.50" y1="163.00" x2="191.00" y2="67.50" stroke-width="1.3" />
<polygon points="27.50,163.00 41.03,150.47 45.06,157.38" fill="#111" stroke="none"/>
<polygon points="191.00,67.50 177.47,80.03 173.44,73.12" fill="#111" stroke="none"/>
<line x1="20.50" y1="163.00" x2="93.00" y2="180.00" stroke-width="1.3" />
<line x1="70.00" y1="176.90" x2="93.00" y2="182.30" stroke-width="1.3" />
<line x1="184.00" y1="65.00" x2="252.50" y2="78.75" stroke-width="1.3" />
<text transform="translate(103.50,105.50) rotate(-30.3)" font-size="31.5" text-anchor="middle" letter-spacing="0.3">520</text>
<line x1="71.00" y1="154.00" x2="71.00" y2="173.00" stroke-width="1.3" />
<polygon points="71.20,173.70 67.00,153.70 75.40,153.70" fill="#111" stroke="none"/>
<polygon points="71.20,180.30 75.40,198.30 67.00,198.30" fill="#111" stroke="none"/>
<line x1="71.00" y1="180.00" x2="71.00" y2="221.00" stroke-width="1.3" />
<text transform="translate(59.50,209.00) rotate(-90)" font-size="31.5" text-anchor="middle" letter-spacing="0.3">4</text>
<line x1="355.50" y1="30.50" x2="815.00" y2="120.00" stroke-width="1.3" />
<polygon points="355.50,30.50 373.93,30.02 372.40,37.87" fill="#111" stroke="none"/>
<polygon points="815.00,120.00 796.57,120.48 798.10,112.63" fill="#111" stroke="none"/>
<line x1="280.00" y1="73.75" x2="360.00" y2="26.00" stroke-width="1.3" />
<line x1="819.50" y1="118.00" x2="740.00" y2="165.00" stroke-width="1.3" />
<text transform="translate(575.00,61.50) rotate(11.2) skewX(-3)" font-size="32" text-anchor="middle" letter-spacing="0.3">830</text>
<line x1="273.75" y1="171.25" x2="353.75" y2="124.50" stroke-width="1.3" />
<polygon points="273.75,171.25 287.27,158.71 291.31,165.62" fill="#111" stroke="none"/>
<polygon points="353.75,124.50 340.23,137.04 336.19,130.13" fill="#111" stroke="none"/>
<line x1="268.75" y1="171.25" x2="325.00" y2="183.75" stroke-width="1.3" />
<line x1="347.50" y1="120.00" x2="418.75" y2="133.75" stroke-width="1.3" />
<text transform="translate(307.50,138.50) rotate(-30.3)" font-size="31.5" text-anchor="middle" letter-spacing="0.3">262</text>
<line x1="480.00" y1="85.80" x2="399.00" y2="133.00" stroke-width="1.3" />
<polygon points="435.00,111.70 448.58,99.23 452.59,106.16" fill="#111" stroke="none"/>
<polygon points="399.50,132.80 385.92,145.27 381.91,138.34" fill="#111" stroke="none"/>
<text transform="translate(459.00,85.00) rotate(-30.3)" font-size="31.5" text-anchor="middle" letter-spacing="0.3">90</text>
<line x1="472.50" y1="106.30" x2="563.30" y2="124.20" stroke-width="1.3" />
<polygon points="472.50,106.30 490.93,105.86 489.39,113.71" fill="#111" stroke="none"/>
<polygon points="563.30,124.20 544.87,124.64 546.41,116.79" fill="#111" stroke="none"/>
<line x1="474.00" y1="102.50" x2="429.00" y2="130.00" stroke-width="1.3" />
<line x1="568.50" y1="122.00" x2="521.50" y2="149.50" stroke-width="1.3" />
<text transform="translate(524.00,104.50) rotate(11.2) skewX(-3)" font-size="31.5" text-anchor="middle" letter-spacing="0.3">167</text>
<line x1="132.00" y1="336.50" x2="551.00" y2="418.50" stroke-width="1.3" />
<polygon points="132.00,336.50 150.43,336.03 148.90,343.88" fill="#111" stroke="none"/>
<polygon points="551.00,418.50 532.57,418.97 534.10,411.12" fill="#111" stroke="none"/>
<line x1="130.80" y1="217.50" x2="130.80" y2="341.00" stroke-width="1.3" />
<line x1="551.40" y1="284.00" x2="551.40" y2="424.00" stroke-width="1.3" />
<text transform="translate(334.00,364.30) rotate(11.2) skewX(-3)" font-size="32" text-anchor="middle" letter-spacing="0.3">762</text>
<line x1="548.75" y1="384.50" x2="697.50" y2="298.75" stroke-width="1.3" />
<polygon points="548.75,384.50 562.35,372.04 566.34,378.98" fill="#111" stroke="none"/>
<polygon points="697.50,298.75 683.90,311.21 679.91,304.27" fill="#111" stroke="none"/>
<line x1="566.00" y1="272.20" x2="671.00" y2="291.50" stroke-width="1.3" />
<line x1="353.00" y1="323.50" x2="652.00" y2="383.00" stroke-width="1.3" />
<line x1="698.25" y1="215.00" x2="698.25" y2="298.00" stroke-width="1.3" />
<line x1="548.60" y1="284.00" x2="548.60" y2="387.00" stroke-width="1.3" />
<text transform="translate(614.50,332.50) rotate(-30.3)" font-size="31.5" text-anchor="middle" letter-spacing="1.1">476.8</text>
<line x1="667.50" y1="271.00" x2="667.50" y2="343.00" stroke-width="1.3" />
<polygon points="667.50,291.00 663.30,271.00 671.70,271.00" fill="#111" stroke="none"/>
<text transform="translate(699,323.0) rotate(-90)" font-size="31.5" text-anchor="end" letter-spacing="0.3">100</text>
</g>
<g id="logo">

<rect x="655" y="343" width="185" height="75" fill="#fff" stroke="none"/>
<path d="M668.4,357 L666.3,399.5 L676.8,391.5 L683.8,407 L690,404 L685.6,389 L695.2,384.8 Z" fill="#fff" stroke="#000" stroke-width="3.5" stroke-linejoin="round"/>
<g font-weight="bold" stroke="#000" stroke-linejoin="round">
<text transform="translate(0,374.0) scale(0.70,1)" x="1010.4 1049 1083.5 1109.6 1141.1 1174.1" y="0" font-size="28" text-anchor="middle" stroke-width="1.3" vector-effect="non-scaling-stroke" style="fill:#000">ONLINE</text>
<text transform="translate(696.3,408.8) scale(0.76,1)" x="0" y="0" font-size="41" stroke-width="2.6" letter-spacing="-0.8" vector-effect="non-scaling-stroke" style="fill:#000">MARKET</text>
</g>

</g>
</svg>
</body></html>
